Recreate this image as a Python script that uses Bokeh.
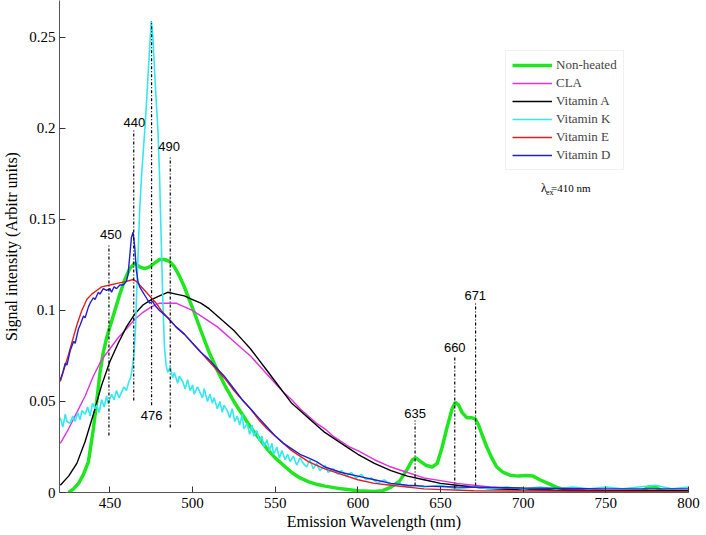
from bokeh.plotting import figure
from bokeh.models import Range1d, FixedTicker, Legend, LegendItem
from bokeh.core.properties import value
from bokeh.embed import file_html
from bokeh.resources import INLINE

# ---------------- data (wavelength nm, intensity) ----------------
non_heated = [(425, 0.0), (428, 0.002), (431, 0.005), (434, 0.010), (437, 0.017), (440, 0.035),
              (442, 0.050), (444, 0.066), (446, 0.077), (448, 0.085), (450, 0.091), (453, 0.100),
              (456, 0.109), (459, 0.117), (462, 0.123), (465, 0.126), (468, 0.124), (471, 0.123),
              (474, 0.124), (477, 0.126), (480, 0.128), (483, 0.128), (486, 0.127), (489, 0.124),
              (492, 0.119), (495, 0.113), (498, 0.106), (501, 0.099), (505, 0.089), (510, 0.077),
              (515, 0.067), (520, 0.058), (525, 0.050), (530, 0.043), (535, 0.036), (540, 0.030),
              (545, 0.024), (550, 0.019), (555, 0.015), (560, 0.011), (565, 0.008), (570, 0.006),
              (575, 0.0045), (580, 0.0035), (590, 0.002), (600, 0.001), (610, 0.0005), (615, 0.001),
              (620, 0.003), (625, 0.006), (630, 0.013), (633, 0.018), (635, 0.019), (638, 0.017),
              (641, 0.015), (645, 0.014), (648, 0.016), (651, 0.025), (654, 0.036), (657, 0.046),
              (659, 0.0495), (661, 0.048), (663, 0.044), (666, 0.041), (669, 0.041), (671, 0.0405),
              (673, 0.037), (675, 0.032), (678, 0.025), (681, 0.019), (684, 0.014), (688, 0.011),
              (692, 0.0095), (697, 0.009), (702, 0.0093), (706, 0.009), (710, 0.007), (715, 0.005),
              (720, 0.003), (725, 0.0015), (730, 0.001), (740, 0.0005), (760, 0.0005), (772, 0.001),
              (776, 0.003), (780, 0.003), (784, 0.001), (788, 0.0005), (800, 0.0005)]

cla = [(420, 0.027), (425, 0.035), (430, 0.044), (435, 0.053), (440, 0.064), (445, 0.073),
       (450, 0.079), (455, 0.085), (460, 0.090), (465, 0.095), (470, 0.099), (475, 0.102),
       (480, 0.104), (485, 0.104), (490, 0.104), (495, 0.102), (500, 0.100), (505, 0.097),
       (510, 0.094), (515, 0.091), (520, 0.087), (525, 0.083), (530, 0.079), (535, 0.075),
       (540, 0.070), (545, 0.065), (550, 0.060), (555, 0.055), (560, 0.051), (565, 0.046),
       (570, 0.042), (575, 0.038), (580, 0.035), (585, 0.031), (590, 0.028), (595, 0.025),
       (600, 0.023), (610, 0.018), (620, 0.014), (630, 0.011), (640, 0.008), (650, 0.0065),
       (660, 0.005), (670, 0.004), (680, 0.003), (700, 0.002), (750, 0.0012), (800, 0.001)]

vitamin_a = [(420, 0.004), (425, 0.009), (430, 0.016), (435, 0.028), (440, 0.043), (445, 0.059),
             (450, 0.072), (455, 0.082), (460, 0.091), (465, 0.098), (470, 0.103), (475, 0.106),
             (480, 0.108), (485, 0.110), (490, 0.109), (495, 0.108), (500, 0.106), (505, 0.104),
             (510, 0.101), (515, 0.097), (520, 0.093), (525, 0.089), (530, 0.084), (535, 0.079),
             (540, 0.073), (545, 0.067), (550, 0.061), (555, 0.055), (560, 0.049), (565, 0.045),
             (570, 0.041), (575, 0.037), (580, 0.033), (585, 0.030), (590, 0.027), (595, 0.024),
             (600, 0.021), (610, 0.016), (620, 0.012), (630, 0.009), (640, 0.007), (650, 0.005),
             (660, 0.004), (670, 0.003), (680, 0.002), (700, 0.0015), (750, 0.001), (800, 0.001)]

vitamin_k = [(420, 0.041), (421.5, 0.036), (423, 0.043), (424, 0.039), (426, 0.038), (427.5, 0.042),
             (429, 0.039), (430.5, 0.044), (432, 0.040), (433, 0.045), (435, 0.043), (436.5, 0.047),
             (438, 0.042), (439.5, 0.049), (441, 0.046), (442, 0.048), (443.5, 0.044), (445, 0.051),
             (446.5, 0.047), (448, 0.053), (449, 0.049), (451, 0.054), (452.5, 0.051), (454, 0.056),
             (455.5, 0.052), (457, 0.055), (458.5, 0.058), (460, 0.056), (461.5, 0.061), (462.5, 0.063),
             (463.5, 0.068), (464.5, 0.076), (465.5, 0.090), (466, 0.105), (467, 0.130), (468, 0.155),
             (469, 0.172), (470, 0.185), (471, 0.198), (472, 0.212), (473, 0.228), (474, 0.244),
             (475, 0.259), (476, 0.250), (477, 0.232), (478, 0.215), (479, 0.200), (480, 0.175),
             (481, 0.140), (482, 0.105), (483, 0.080), (484, 0.070), (485, 0.066), (486.5, 0.069),
             (488, 0.063), (489, 0.066), (491, 0.060), (492, 0.064), (494, 0.061), (495.5, 0.057),
             (497, 0.062), (498.5, 0.056), (500, 0.059), (501, 0.054), (503, 0.058), (504.5, 0.055),
             (506, 0.052), (507, 0.057), (509, 0.050), (510.5, 0.054), (512, 0.049), (513, 0.052),
             (515, 0.046), (516.5, 0.050), (518, 0.044), (519, 0.048), (521, 0.045), (522.5, 0.041),
             (524, 0.046), (525.5, 0.039), (527, 0.042), (528.5, 0.037), (530, 0.043), (531, 0.035),
             (533, 0.038), (534.5, 0.032), (536, 0.037), (537, 0.031), (539, 0.034), (540.5, 0.028),
             (542, 0.031), (543, 0.025), (545, 0.029), (546.5, 0.023), (548, 0.027), (549, 0.021),
             (551, 0.025), (552.5, 0.019), (554, 0.023), (556, 0.018), (557.5, 0.021), (559, 0.017),
             (561, 0.020), (563, 0.015), (565, 0.019), (567, 0.016), (569, 0.014), (571, 0.018),
             (573, 0.013), (575, 0.016), (577, 0.012), (580, 0.015), (582, 0.011), (585, 0.013),
             (588, 0.010), (590, 0.012), (593, 0.009), (596, 0.011), (599, 0.008), (602, 0.010),
             (605, 0.007), (608, 0.008), (612, 0.005), (616, 0.007), (620, 0.004), (625, 0.005),
             (630, 0.003), (635, 0.004), (640, 0.003), (650, 0.004), (660, 0.002), (670, 0.003),
             (680, 0.002), (690, 0.003), (700, 0.002), (710, 0.003), (720, 0.002), (730, 0.003),
             (740, 0.002), (750, 0.003), (760, 0.002), (770, 0.003), (780, 0.004), (790, 0.002),
             (800, 0.003)]

vitamin_e = [(420, 0.061), (425, 0.076), (430, 0.092), (433, 0.100), (436, 0.106), (439, 0.109),
             (442, 0.111), (445, 0.113), (450, 0.114), (455, 0.115), (460, 0.116), (464, 0.117),
             (466, 0.116), (469, 0.113), (472, 0.110), (475, 0.107), (478, 0.104), (481, 0.100),
             (485, 0.096), (490, 0.091), (495, 0.087), (500, 0.082), (505, 0.077), (510, 0.072),
             (515, 0.067), (520, 0.062), (525, 0.056), (530, 0.051), (535, 0.046), (540, 0.040),
             (545, 0.035), (550, 0.031), (555, 0.027), (560, 0.023), (565, 0.020), (570, 0.017),
             (580, 0.013), (590, 0.010), (600, 0.007), (610, 0.005), (620, 0.004), (640, 0.002),
             (670, 0.001), (700, 0.0008), (800, 0.0005)]

vitamin_d = [(420, 0.062), (421.5, 0.066), (423, 0.071), (424, 0.070), (426, 0.078), (428, 0.083),
             (429, 0.082), (431, 0.090), (432, 0.092), (434, 0.097), (435, 0.096), (437, 0.102),
             (438, 0.104), (440, 0.107), (441, 0.106), (443, 0.110), (444, 0.109), (446, 0.112),
             (448, 0.111), (450, 0.112), (451, 0.110), (452.5, 0.113), (454, 0.112), (456, 0.114),
             (458, 0.114), (460, 0.116), (461, 0.120), (462, 0.130), (463, 0.140), (464, 0.143),
             (465, 0.135), (466, 0.122), (467, 0.116), (468, 0.113), (470, 0.110), (472, 0.107),
             (474, 0.104), (476, 0.105), (477, 0.103), (480, 0.100), (485, 0.096), (490, 0.091),
             (495, 0.087), (500, 0.082), (505, 0.077), (510, 0.073), (515, 0.068), (520, 0.063),
             (525, 0.057), (530, 0.051), (535, 0.046), (540, 0.041), (545, 0.036), (550, 0.031),
             (555, 0.027), (560, 0.024), (565, 0.021), (570, 0.019), (575, 0.017), (580, 0.014),
             (590, 0.011), (600, 0.009), (610, 0.007), (620, 0.005), (630, 0.004), (640, 0.0035),
             (660, 0.003), (700, 0.0025), (750, 0.002), (800, 0.002)]

series_names = ["Non-heated", "CLA", "Vitamin A", "Vitamin K", "Vitamin E", "Vitamin D"]
series_data = [non_heated, cla, vitamin_a, vitamin_k, vitamin_e, vitamin_d]
series_colors = ["#20e620", "#e033e0", "#000000", "#33e8f0", "#e02020", "#2020d0"]
series_widths = [3.5, 1.4, 1.4, 1.6, 1.4, 1.4]

# peak markers
peak_labels = ["450", "440", "476", "490", "635", "660", "671"]
peak_x = [449.4, 464.4, 475.2, 486.5, 634.6, 658.6, 671.2]
peak_top = [0.136, 0.199, 0.259, 0.185, 0.0396, 0.0753, 0.104]
peak_bottom = [0.0313, 0.0505, 0.048, 0.0357, 0.0038, 0.0022, 0.0038]
label_x = [450.6, 464.8, 475.2, 485.8, 634.6, 658.6, 671.0]
label_y = [0.1418, 0.203, 0.0423, 0.190, 0.0436, 0.0797, 0.108]

x_ticks = [450, 500, 550, 600, 650, 700, 750, 800]
y_ticks = [0, 0.05, 0.1, 0.15, 0.2, 0.25]
y_tick_labels = ["0", "0.05", "0.1", "0.15", "0.2", "0.25"]

# ---------------- figure ----------------
p = figure(frame_width=629, frame_height=492, output_backend="svg", toolbar_location=None,
           x_range=Range1d(419.5, 800), y_range=Range1d(0, 0.2703),
           min_border_left=49, min_border_right=12, min_border_top=0, min_border_bottom=0)
p.outline_line_color = None
p.grid.visible = False
p.background_fill_color = "white"
p.border_fill_color = "white"

items = []
for name, data, col, w in zip(series_names, series_data, series_colors, series_widths):
    xs = [d[0] for d in data]
    ys = [d[1] for d in data]
    r = p.line(xs, ys, line_color=col, line_width=w)
    items.append(LegendItem(label=name, renderers=[r]))

p.segment(x0=peak_x, y0=peak_bottom, x1=peak_x, y1=peak_top, line_color="black",
          line_width=1.2, line_dash="3 2 1 2")
p.text(x=label_x, y=label_y, text=peak_labels, text_font=value("Liberation Sans"),
       text_font_size="13px", text_align="center", text_baseline="middle", text_color="black")

# excitation wavelength note
p.text(x=[710.8], y=[0.1672], text=["λ"], text_font=value("Liberation Serif"),
       text_font_size="12px", text_align="left", text_baseline="alphabetic")
p.text(x=[713.8], y=[0.1649], text=["ex"], text_font=value("Liberation Serif"),
       text_font_size="8px", text_align="left", text_baseline="alphabetic")
p.text(x=[716.8], y=[0.1672], text=["=410 nm"], text_font=value("Liberation Serif"),
       text_font_size="11px", text_align="left", text_baseline="alphabetic")

legend = Legend(items=items, location=(446, 322), orientation="vertical",
                label_text_font="Liberation Serif", label_text_font_size="13px",
                glyph_width=40, glyph_height=16, label_height=16, label_standoff=4,
                spacing=2, padding=6, margin=0,
                border_line_color="#e4e4e4", border_line_width=1,
                background_fill_color="white", background_fill_alpha=1.0)
p.add_layout(legend)

for ax in (p.xaxis[0], p.yaxis[0]):
    ax.axis_line_color = "#555555"
    ax.major_tick_line_color = "#333333"
    ax.major_tick_in = 6
    ax.major_tick_out = 0
    ax.minor_tick_line_color = None
    ax.major_label_text_font = "Liberation Serif"
    ax.major_label_text_font_size = "15px"
    ax.major_label_text_color = "black"
    ax.axis_label_text_font = "Liberation Serif"
    ax.axis_label_text_font_size = "16px"
    ax.axis_label_text_font_style = "normal"
    ax.axis_label_text_color = "black"

p.xaxis.ticker = FixedTicker(ticks=x_ticks)
p.yaxis.ticker = FixedTicker(ticks=y_ticks)
p.yaxis.major_label_overrides = {t: l for t, l in zip(y_ticks, y_tick_labels)}
p.xaxis.axis_label = "Emission Wavelength (nm)"
p.yaxis.axis_label = "Signal intensity (Arbitr units)"
p.xaxis.major_label_standoff = 5
p.xaxis.axis_label_standoff = 2
p.yaxis.major_label_standoff = 4
p.yaxis.axis_label_standoff = 6

open("out.html", "w").write(file_html(p, INLINE))
